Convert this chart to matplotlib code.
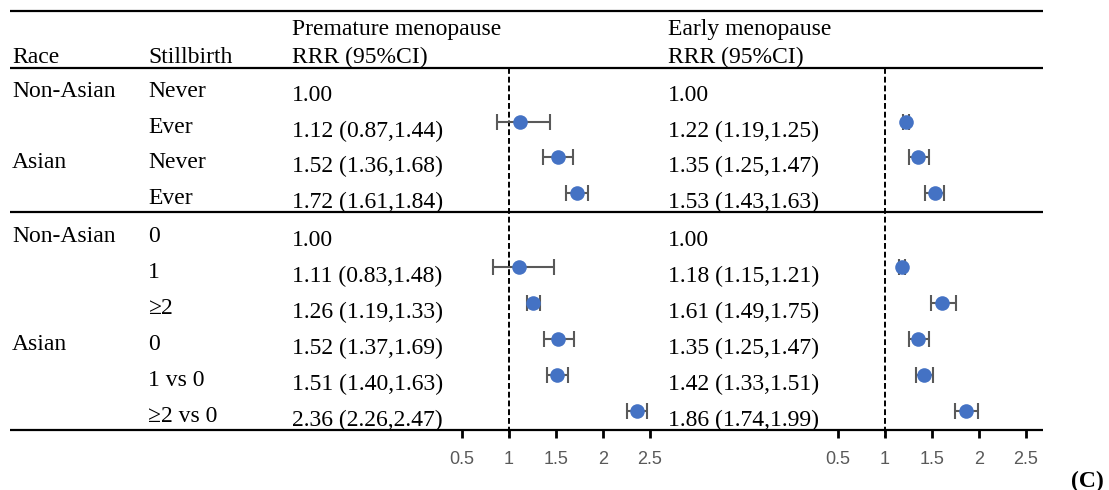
import matplotlib
matplotlib.use("Agg")
import matplotlib.pyplot as plt

# ---- data -------------------------------------------------------------
race_labels = ["Non-Asian", "", "Asian", "",
               "Non-Asian", "", "", "Asian", "", ""]
stillbirth_labels = ["Never", "Ever", "Never", "Ever",
                     "0", "1", "≥2", "0", "1 vs 0", "≥2 vs 0"]

# premature menopause: RRR, lower, upper (None = reference)
prem_rrr = [1.00, 1.12, 1.52, 1.72, 1.00, 1.11, 1.26, 1.52, 1.51, 2.36]
prem_lo = [None, 0.87, 1.36, 1.61, None, 0.83, 1.19, 1.37, 1.40, 2.26]
prem_hi = [None, 1.44, 1.68, 1.84, None, 1.48, 1.33, 1.69, 1.63, 2.47]

# early menopause
early_rrr = [1.00, 1.22, 1.35, 1.53, 1.00, 1.18, 1.61, 1.35, 1.42, 1.86]
early_lo = [None, 1.19, 1.25, 1.43, None, 1.15, 1.49, 1.25, 1.33, 1.74]
early_hi = [None, 1.25, 1.47, 1.63, None, 1.21, 1.75, 1.47, 1.51, 1.99]

xticks = [0.5, 1, 1.5, 2, 2.5]

# ---- layout (pixels) --------------------------------------------------
W, H = 1109, 490
SERIF = "Liberation Serif"
FS = 17
DOT = "#4472C4"
BAR = "#595959"

sec1 = [97 + 35.7 * i for i in range(4)]
sec2 = [242 + 36.0 * i for i in range(6)]
baselines = sec1 + sec2

fig = plt.figure(figsize=(W / 100, H / 100), dpi=100)
base = fig.add_axes([0, 0, 1, 1])
base.set_xlim(0, W)
base.set_ylim(H, 0)
base.axis("off")

# rules
for y in (11, 68, 212, 430):
    base.plot([10, 1043], [y, y], color="black", lw=1.6, solid_capstyle="butt")

# header
hdr = dict(family=SERIF, fontsize=FS, va="baseline", ha="left")
base.text(12, 63, "Race", **hdr)
base.text(148, 63, "Stillbirth", **hdr)
base.text(292, 35, "Premature menopause", **hdr)
base.text(292, 63, "RRR (95%CI)", **hdr)
base.text(668, 35, "Early menopause", **hdr)
base.text(668, 63, "RRR (95%CI)", **hdr)


def fmt(r, lo, hi):
    if lo is None:
        return f"{r:.2f}"
    return f"{r:.2f} ({lo:.2f},{hi:.2f})"


for i, yb in enumerate(baselines):
    base.text(12, yb, race_labels[i], **hdr)
    base.text(148, yb, stillbirth_labels[i], **hdr)
    base.text(292, yb + 4, fmt(prem_rrr[i], prem_lo[i], prem_hi[i]), **hdr)
    base.text(668, yb + 4, fmt(early_rrr[i], early_lo[i], early_hi[i]), **hdr)

base.text(1071, 487, "(C)", family=SERIF, fontsize=FS, fontweight="bold",
          va="baseline", ha="left")


# ---- forest panels ----------------------------------------------------
def forest(px_left, px_right, px_one, rrr, lo, hi):
    scale = 94.0  # pixels per unit RRR
    ax = fig.add_axes([px_left / W, 0, (px_right - px_left) / W, 1])
    ax.patch.set_alpha(0)
    ax.set_xlim(1 + (px_left - px_one) / scale, 1 + (px_right - px_one) / scale)
    ax.set_ylim(H, 0)
    for s in ("top", "left", "right"):
        ax.spines[s].set_visible(False)
    ax.spines["bottom"].set_position(("data", 430))
    ax.spines["bottom"].set_visible(False)
    ax.set_yticks([])
    ax.set_xticks(xticks)
    ax.set_xticklabels([f"{t:g}" for t in xticks])
    ax.tick_params(axis="x", direction="out", length=6, width=2,
                   color="black", labelcolor="#595959", labelsize=13, pad=9)
    for lab in ax.get_xticklabels():
        lab.set_family("Liberation Sans")
    ax.vlines(1, 68, 437, colors="black", lw=1.4, linestyles=(0, (3, 1.5)))
    for i, yb in enumerate(baselines):
        if lo[i] is None:
            continue
        yd = yb - 11
        ax.errorbar(rrr[i], yd, xerr=[[rrr[i] - lo[i]], [hi[i] - rrr[i]]],
                    fmt="none", ecolor=BAR, elinewidth=1.5,
                    capsize=5.5, capthick=1.5, zorder=2)
        ax.plot(rrr[i], yd, "o", color=DOT, ms=10.5, mec="none", zorder=3)
    return ax


forest(420, 662, 509, prem_rrr, prem_lo, prem_hi)
forest(800, 1043, 885, early_rrr, early_lo, early_hi)

fig.savefig("out.png", dpi=100)
